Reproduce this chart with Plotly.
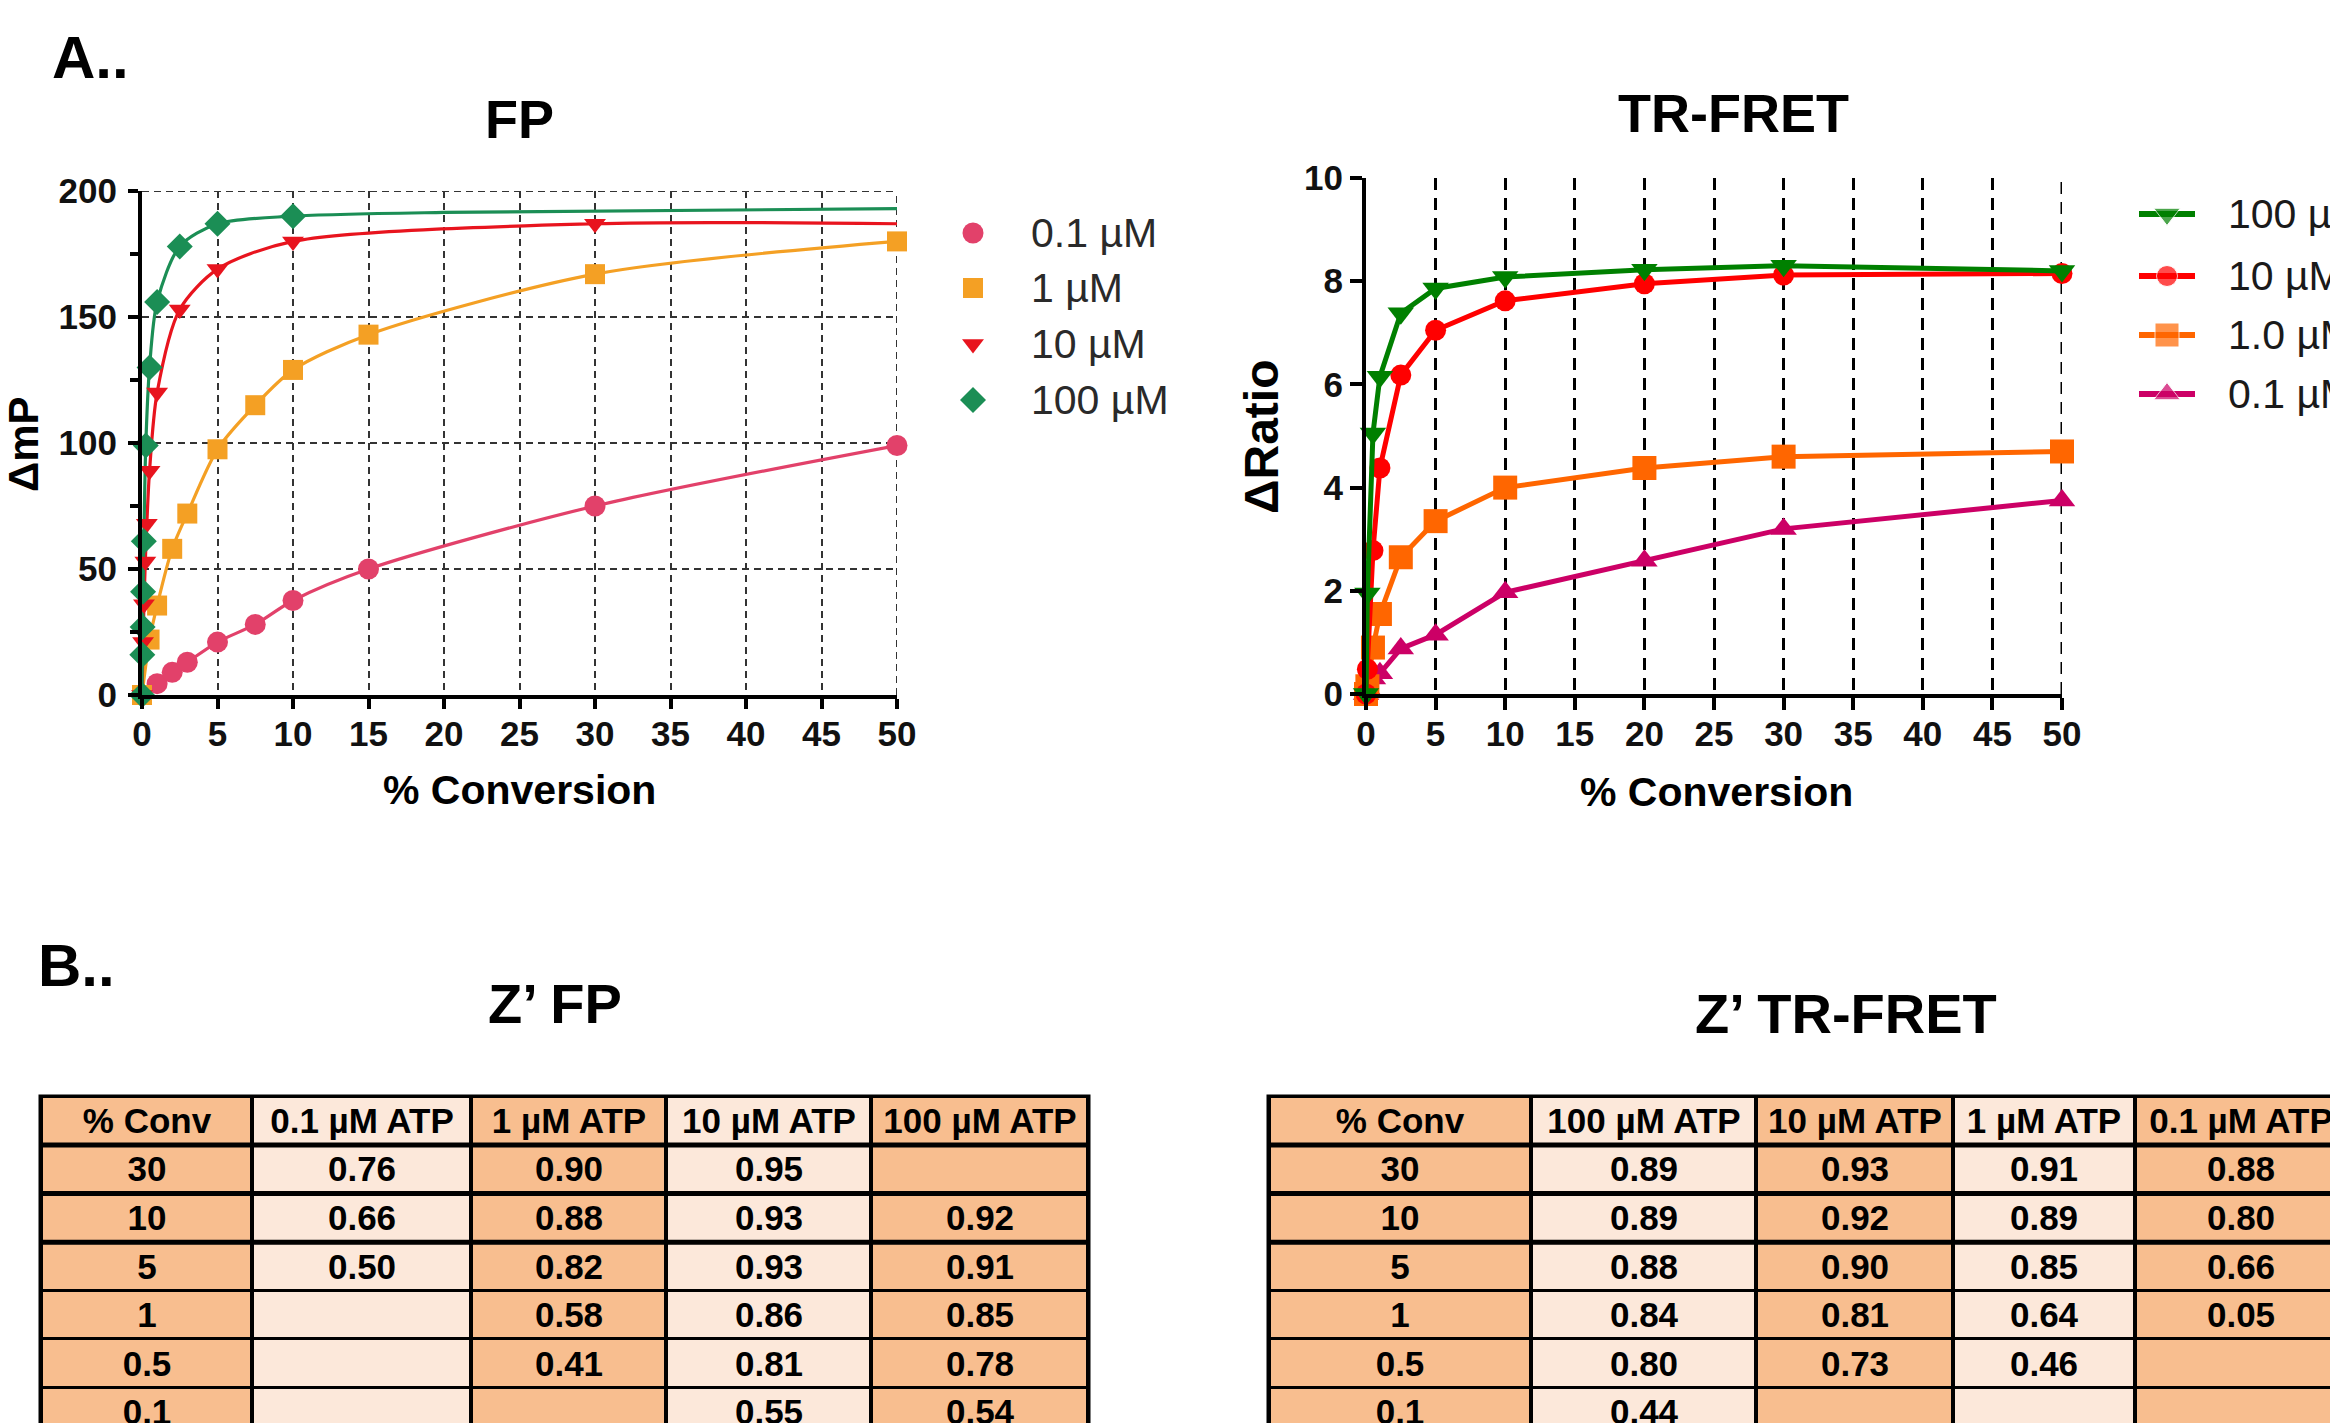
import plotly.graph_objects as go

W, H = 2338, 1423
OX, OY = 8, 8   # page body margin: figure pixel = screen pixel - offset
FONT = "Liberation Sans, Arial, Helvetica, sans-serif"

# ---------------- FP data (Delta mP vs % conversion) ----------------
fp_labels = ["0.1 µM", "1 µM", "10 µM", "100 µM"]
fp_x_01 = [0, 1, 2, 3, 5, 7.5, 10, 15, 30, 50]
fp_y_01 = [0, 4.5, 9, 13, 21, 28, 37.5, 50, 75, 99]
fp_x_1 = [0, 0.5, 1, 2, 3, 5, 7.5, 10, 15, 30, 50]
fp_y_1 = [0, 22, 35.5, 58, 72, 97.5, 115, 129, 143, 167, 180]
fp_x_10 = [0, 0.07, 0.13, 0.22, 0.32, 0.5, 1, 2.5, 5, 10, 30]
fp_y_10 = [0, 21, 36, 53, 68, 89, 120, 153, 169, 180, 187]
fp_x_100 = [0, 0.02, 0.04, 0.07, 0.12, 0.25, 0.5, 1, 2.5, 5, 10]
fp_y_100 = [0, 16, 27, 41, 61, 99, 130, 156, 178, 187, 190]
# fitted curve continuation
fp_fit_x_10 = [50]
fp_fit_y_10 = [187]
fp_fit_x_100 = [20, 50]
fp_fit_y_100 = [191.5, 193]

# ---------------- TR-FRET data (Delta Ratio vs % conversion) ----------------
tr_labels = ["100 µM", "10 µM", "1.0 µM", "0.1 µM"]
tr_x = [0, 0.1, 0.5, 1, 2.5, 5, 10, 20, 30, 50]
tr_y_100 = [0, 1.95, 5.05, 6.15, 7.38, 7.86, 8.08, 8.22, 8.3, 8.2]
tr_y_10 = [0, 0.48, 2.78, 4.38, 6.18, 7.05, 7.62, 7.95, 8.12, 8.15]
tr_y_1 = [0, 0.15, 0.9, 1.55, 2.65, 3.35, 4.0, 4.38, 4.6, 4.7]
tr_y_01 = [0, 0.1, 0.3, 0.4, 0.88, 1.15, 1.97, 2.58, 3.2, 3.75]

# ---------------- Z' tables ----------------
fp_header = ["% Conv", "0.1 µM ATP", "1 µM ATP", "10 µM ATP", "100 µM ATP"]
fp_conv = ["30", "10", "5", "1", "0.5", "0.1"]
fp_z_01 = ["0.76", "0.66", "0.50", "", "", ""]
fp_z_1 = ["0.90", "0.88", "0.82", "0.58", "0.41", ""]
fp_z_10 = ["0.95", "0.93", "0.93", "0.86", "0.81", "0.55"]
fp_z_100 = ["", "0.92", "0.91", "0.85", "0.78", "0.54"]

tr_header = ["% Conv", "100 µM ATP", "10 µM ATP", "1 µM ATP", "0.1 µM ATP"]
tr_conv = ["30", "10", "5", "1", "0.5", "0.1"]
tr_z_100 = ["0.89", "0.89", "0.88", "0.84", "0.80", "0.44"]
tr_z_10 = ["0.93", "0.92", "0.90", "0.81", "0.73", ""]
tr_z_1 = ["0.91", "0.89", "0.85", "0.64", "0.46", ""]
tr_z_01 = ["0.88", "0.80", "0.66", "0.05", "", ""]

# ---------------- styles / layout geometry ----------------
FP_COLORS = ["#E2416A", "#F4A024", "#E8141E", "#1B8E55"]
FP_SYMBOLS = ["circle", "square", "triangle-down", "diamond"]
FP_SIZES = [21, 20, 19, 20]
TR_COLORS = ["#008000", "#FF0000", "#FF6600", "#CC0066"]
TR_SYMBOLS = ["triangle-down", "circle", "square", "triangle-up"]
TR_SIZES = [23, 21, 24, 23]
DARK, LIGHT = "#F8BE8F", "#FCE8DA"


def dom_x(a, b):
    return [(a - OX) / W, (b - OX) / W]


def dom_y(top, bottom):
    return [1 - (bottom - OY) / H, 1 - (top - OY) / H]


fig = go.Figure()

# FP traces
fp_sets = [(fp_x_01, fp_y_01, [], []), (fp_x_1, fp_y_1, [], []),
           (fp_x_10, fp_y_10, fp_fit_x_10, fp_fit_y_10),
           (fp_x_100, fp_y_100, fp_fit_x_100, fp_fit_y_100)]
for i, (xs, ys, fx, fy) in enumerate(fp_sets):
    fig.add_trace(go.Scatter(x=xs + fx, y=ys + fy, mode="lines",
                             line=dict(color=FP_COLORS[i], width=3.2, shape="spline", smoothing=0.8),
                             xaxis="x", yaxis="y", showlegend=False, hoverinfo="skip",
                             cliponaxis=False))
for i, (xs, ys, fx, fy) in enumerate(fp_sets):
    fig.add_trace(go.Scatter(x=xs, y=ys, mode="markers", name=fp_labels[i],
                             marker=dict(color=FP_COLORS[i], symbol=FP_SYMBOLS[i], size=FP_SIZES[i]),
                             xaxis="x", yaxis="y", showlegend=False, cliponaxis=False))

# TR-FRET traces (drawn lowest concentration first)
tr_sets = [tr_y_100, tr_y_10, tr_y_1, tr_y_01]
for i in [3, 2, 1, 0]:
    fig.add_trace(go.Scatter(x=tr_x, y=tr_sets[i], mode="lines+markers", name=tr_labels[i],
                             line=dict(color=TR_COLORS[i], width=5),
                             marker=dict(color=TR_COLORS[i], symbol=TR_SYMBOLS[i], size=TR_SIZES[i]),
                             xaxis="x2", yaxis="y2", showlegend=False, cliponaxis=False))

# ---------------- legends (screen-pixel overlay axis x5/y5) ----------------
fp_leg_x, fp_leg_rows, fp_leg_text_x = 973, [233, 288, 344, 400], 1029
for i in range(4):
    fig.add_trace(go.Scatter(x=[fp_leg_x], y=[fp_leg_rows[i]], mode="markers",
                             marker=dict(color=FP_COLORS[i], symbol=FP_SYMBOLS[i], size=FP_SIZES[i]),
                             xaxis="x5", yaxis="y5", showlegend=False, hoverinfo="skip"))
tr_leg_x, tr_leg_rows, tr_leg_text_x = [2139, 2167, 2195], [214, 276, 335, 394], 2226
for i in range(4):
    yy = tr_leg_rows[i]
    fig.add_trace(go.Scatter(x=tr_leg_x, y=[yy, yy, yy], mode="lines+markers",
                             line=dict(color=TR_COLORS[i], width=6),
                             marker=dict(color=TR_COLORS[i], symbol=TR_SYMBOLS[i],
                                         size=[0, TR_SIZES[i], 0]),
                             xaxis="x5", yaxis="y5", showlegend=False, hoverinfo="skip"))

# ---------------- tables as heatmaps (screen-pixel overlay axis) ----------------
TABLE_TOP, HEADER_H, ROW_H = 1097, 48, 48.6
fp_table_left, fp_col_w = 41, [211, 219, 195, 205, 217]
tr_table_left, tr_col_w = 1269, [262, 225, 197, 182, 212]
col_dark = [1, 0, 1, 0, 1]
shapes = []


def add_table(header, conv, columns, left, widths):
    xe = [left]
    for w in widths:
        xe.append(xe[-1] + w)
    ye = [TABLE_TOP, TABLE_TOP + HEADER_H]
    for _ in conv:
        ye.append(ye[-1] + ROW_H)
    rows = [header] + [[conv[r]] + [c[r] for c in columns] for r in range(len(conv))]
    z = [col_dark[:] for _ in rows]
    fig.add_trace(go.Heatmap(x=xe, y=ye, z=z, text=rows, texttemplate="<b>%{text}</b>",
                             textfont=dict(family=FONT, size=35, color="black"),
                             colorscale=[[0, LIGHT], [1, DARK]], zmin=0, zmax=1,
                             showscale=False, xgap=4, ygap=3, hoverinfo="skip",
                             xaxis="x5", yaxis="y5"))
    shapes.append(dict(type="rect", xref="x5", yref="y5", x0=xe[0] - 2.5, x1=xe[-1] + 2.5,
                       y0=ye[0] - 2.5, y1=ye[-1] + 5, fillcolor="black", line=dict(width=0),
                       layer="below"))
    for k in [1, 2, 3]:
        shapes.append(dict(type="line", xref="x5", yref="y5", x0=xe[0], x1=xe[-1],
                           y0=ye[k], y1=ye[k], line=dict(color="black", width=5), layer="above"))


add_table(fp_header, fp_conv, [fp_z_01, fp_z_1, fp_z_10, fp_z_100], fp_table_left, fp_col_w)
add_table(tr_header, tr_conv, [tr_z_100, tr_z_10, tr_z_1, tr_z_01], tr_table_left, tr_col_w)

# grid lines at the far ends of the ranges (plotly omits them)
FP_GRID = dict(color="#333333", width=2, dash="7px,5px")
shapes.append(dict(type="line", xref="x", yref="y", x0=0, x1=50, y0=200, y1=200, line=FP_GRID, layer="below"))
shapes.append(dict(type="line", xref="x", yref="y", x0=50, x1=50, y0=0, y1=200, line=FP_GRID, layer="below"))
shapes.append(dict(type="line", xref="x2", yref="y2", x0=50, x1=50, y0=0, y1=10,
                   line=dict(color="black", width=3, dash="12px,8px"), layer="below"))

# ---------------- annotations ----------------
annotations = []


def ann(text, px, py, size, bold=True, xanchor="center", angle=0, color="black"):
    annotations.append(dict(text=text, x=(px - OX) / W, y=1 - (py - OY) / H, xref="paper",
                            yref="paper", xanchor=xanchor, yanchor="middle", showarrow=False,
                            textangle=angle,
                            font=dict(family=FONT, size=size, color=color,
                                      weight="bold" if bold else "normal")))


ann("A..", 50, 57, 60, xanchor="left")
ann("FP", 519, 119, 54)
ann("TR-FRET", 1733, 113, 54)
ann("% Conversion", 519, 790, 41)
ann("% Conversion", 1716, 792, 41)
ann("ΔmP", 24, 444, 42, angle=-90)
ann("ΔRatio", 1261, 436, 48, angle=-90)
ann("B..", 36, 965, 60, xanchor="left")
ann("Z’ FP", 555, 1003, 56)
ann("Z’ TR-FRET", 1846, 1014, 56)
for i in range(4):
    ann(fp_labels[i], fp_leg_text_x, fp_leg_rows[i], 41, bold=False, xanchor="left", color="#2a2a2a")
    ann(tr_labels[i], tr_leg_text_x, tr_leg_rows[i], 41, bold=False, xanchor="left", color="#1a1a1a")

tickfont = dict(family=FONT, size=35, color="#111", weight="bold")
axis_common = dict(ticks="outside", tickcolor="black", tickwidth=4, showline=True,
                   linewidth=4, linecolor="black", zeroline=False, tickfont=tickfont,
                   fixedrange=True, automargin=False)

fig.update_layout(
    width=W, height=H, margin=dict(l=0, r=0, t=0, b=0, pad=0, autoexpand=False),
    paper_bgcolor="white", plot_bgcolor="rgba(0,0,0,0)", showlegend=False,
    xaxis=dict(domain=dom_x(142, 897), range=[0, 50], tick0=0, dtick=5, ticklen=10,
               showgrid=True, gridcolor="#333333", gridwidth=2, griddash="7px,5px",
               anchor="y", ticklabelstandoff=-5, **axis_common),
    yaxis=dict(domain=dom_y(191, 695), range=[0, 200], tick0=0, dtick=50, ticklen=10,
               showgrid=True, gridcolor="#333333", gridwidth=2, griddash="7px,5px",
               minor=dict(dtick=25, ticks="outside", ticklen=8, tickwidth=4, tickcolor="black",
                          showgrid=False),
               anchor="x", ticklabelstandoff=4, **axis_common),
    xaxis2=dict(domain=dom_x(1366, 2062), range=[0, 50], tick0=0, dtick=5, ticklen=12,
                showgrid=True, gridcolor="black", gridwidth=3, griddash="12px,8px",
                anchor="y2", ticklabelstandoff=-6, **axis_common),
    yaxis2=dict(domain=dom_y(178, 694), range=[0, 10], tick0=0, dtick=2, ticklen=12,
                showgrid=False, anchor="x2", ticklabelstandoff=0, **axis_common),
    xaxis5=dict(domain=[0, 1], range=[OX, W + OX], visible=False, anchor="y5", fixedrange=True,
                automargin=False),
    yaxis5=dict(domain=[0, 1], range=[H + OY, OY], visible=False, anchor="x5", fixedrange=True,
                automargin=False),
    shapes=shapes,
    annotations=annotations,
)

fig.write_html("out.html")
